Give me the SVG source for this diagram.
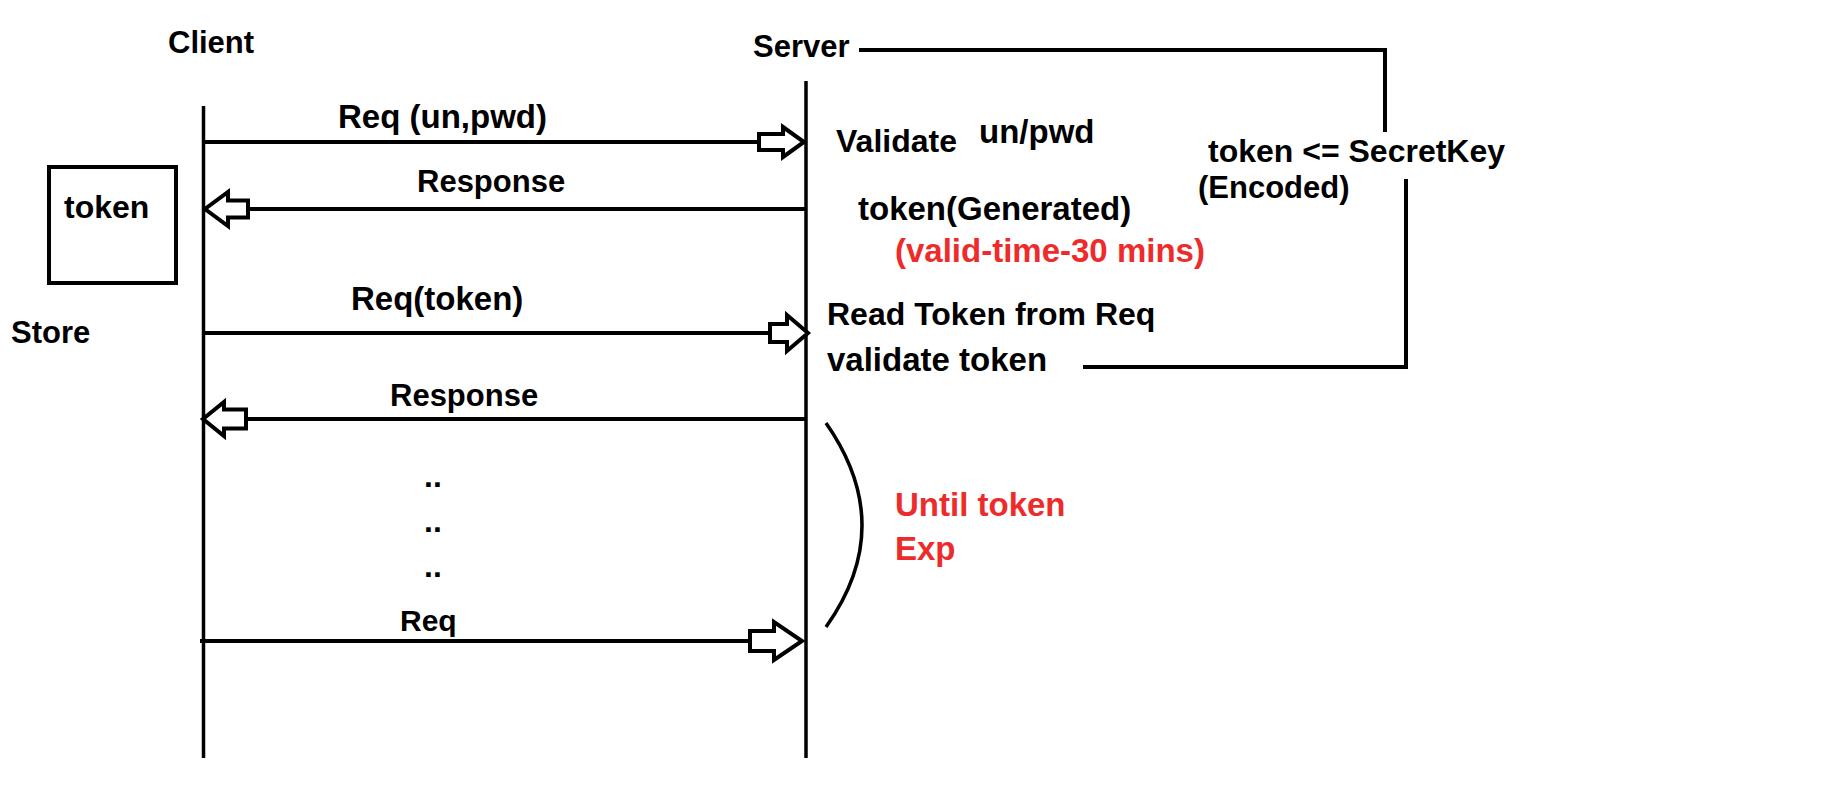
<svg xmlns="http://www.w3.org/2000/svg" width="1846" height="806" viewBox="0 0 1846 806">
<style>
text{font-family:"Liberation Sans",Arial,sans-serif;font-weight:bold;fill:#000;font-size:32px}
.red{fill:#ee2b2b}
.ln{stroke:#000;stroke-width:4;fill:none;stroke-linecap:butt}
.life{stroke:#000;stroke-width:3.5;fill:none}
.head{fill:#fff;stroke:#000;stroke-width:4;stroke-linejoin:miter}
</style>
<rect width="1846" height="806" fill="#fff"/>
<g id="client">
<text x="168" y="53" style="font-size:31px">Client</text>
<line class="life" x1="203.5" y1="106" x2="203.5" y2="758"/>
</g>
<g id="server">
<text x="753" y="57" style="font-size:31px">Server</text>
<line class="life" x1="806" y1="81" x2="806" y2="758"/>
</g>
<g id="token-store">
<rect x="49" y="167" width="127" height="116" fill="none" stroke="#000" stroke-width="4"/>
<text x="64" y="218">token</text>
<text x="11" y="343" style="font-size:31px">Store</text>
</g>
<g id="server-notes">
<text x="836" y="152">Validate</text>
<text x="979" y="143" style="font-size:33px">un/pwd</text>
<text x="858" y="220" style="font-size:33px">token(Generated)</text>
<text x="895" y="262" class="red" style="font-size:33px">(valid-time-30 mins)</text>
<text x="827" y="325">Read Token from Req</text>
<text x="827" y="371" style="font-size:33px">validate token</text>
</g>
<g id="secret-key">
<text x="1208" y="162">token &lt;= SecretKey</text>
<text x="1198" y="198" style="font-size:31px">(Encoded)</text>
</g>
<g id="until-exp">
<path d="M826,423 Q898,526 826,627" fill="none" stroke="#000" stroke-width="3.5"/>
<text x="895" y="516" class="red" style="font-size:33px">Until token</text>
<text x="895" y="560" class="red" style="font-size:33px">Exp</text>
</g>
<g id="connectors">
<polyline class="ln" points="859,50 1385,50 1385,132"/>
<polyline class="ln" points="1083,367 1406,367 1406,179"/>
<line class="ln" x1="203" y1="142" x2="759" y2="142"/>
<path class="head" d="M759,134 H783 V127 L804,142 L783,157 V150 H759 Z"/>
<text x="338" y="128" style="font-size:33px">Req (un,pwd)</text>
<line class="ln" x1="248" y1="209" x2="806" y2="209"/>
<path class="head" d="M248,200.5 H228 V192 L205,209 L228,226 V217.5 H248 Z"/>
<text x="417" y="192" style="font-size:31px">Response</text>
<line class="ln" x1="203" y1="333" x2="770" y2="333"/>
<path class="head" d="M770,324 H787 V315 L808,333 L787,351 V342 H770 Z"/>
<text x="351" y="310" style="font-size:33px">Req(token)</text>
<line class="ln" x1="246" y1="419" x2="806" y2="419"/>
<path class="head" d="M246,409.5 H224 V402 L203,419 L224,436 V428.5 H246 Z"/>
<text x="390" y="406" style="font-size:31px">Response</text>
<text x="424" y="487">..</text>
<text x="424" y="532">..</text>
<text x="424" y="577">..</text>
<line class="ln" x1="200" y1="641" x2="750" y2="641"/>
<path class="head" d="M750,631 H774 V622 L802,641 L774,660 V651 H750 Z"/>
<text x="400" y="631" style="font-size:30px">Req</text>
</g>
</svg>
